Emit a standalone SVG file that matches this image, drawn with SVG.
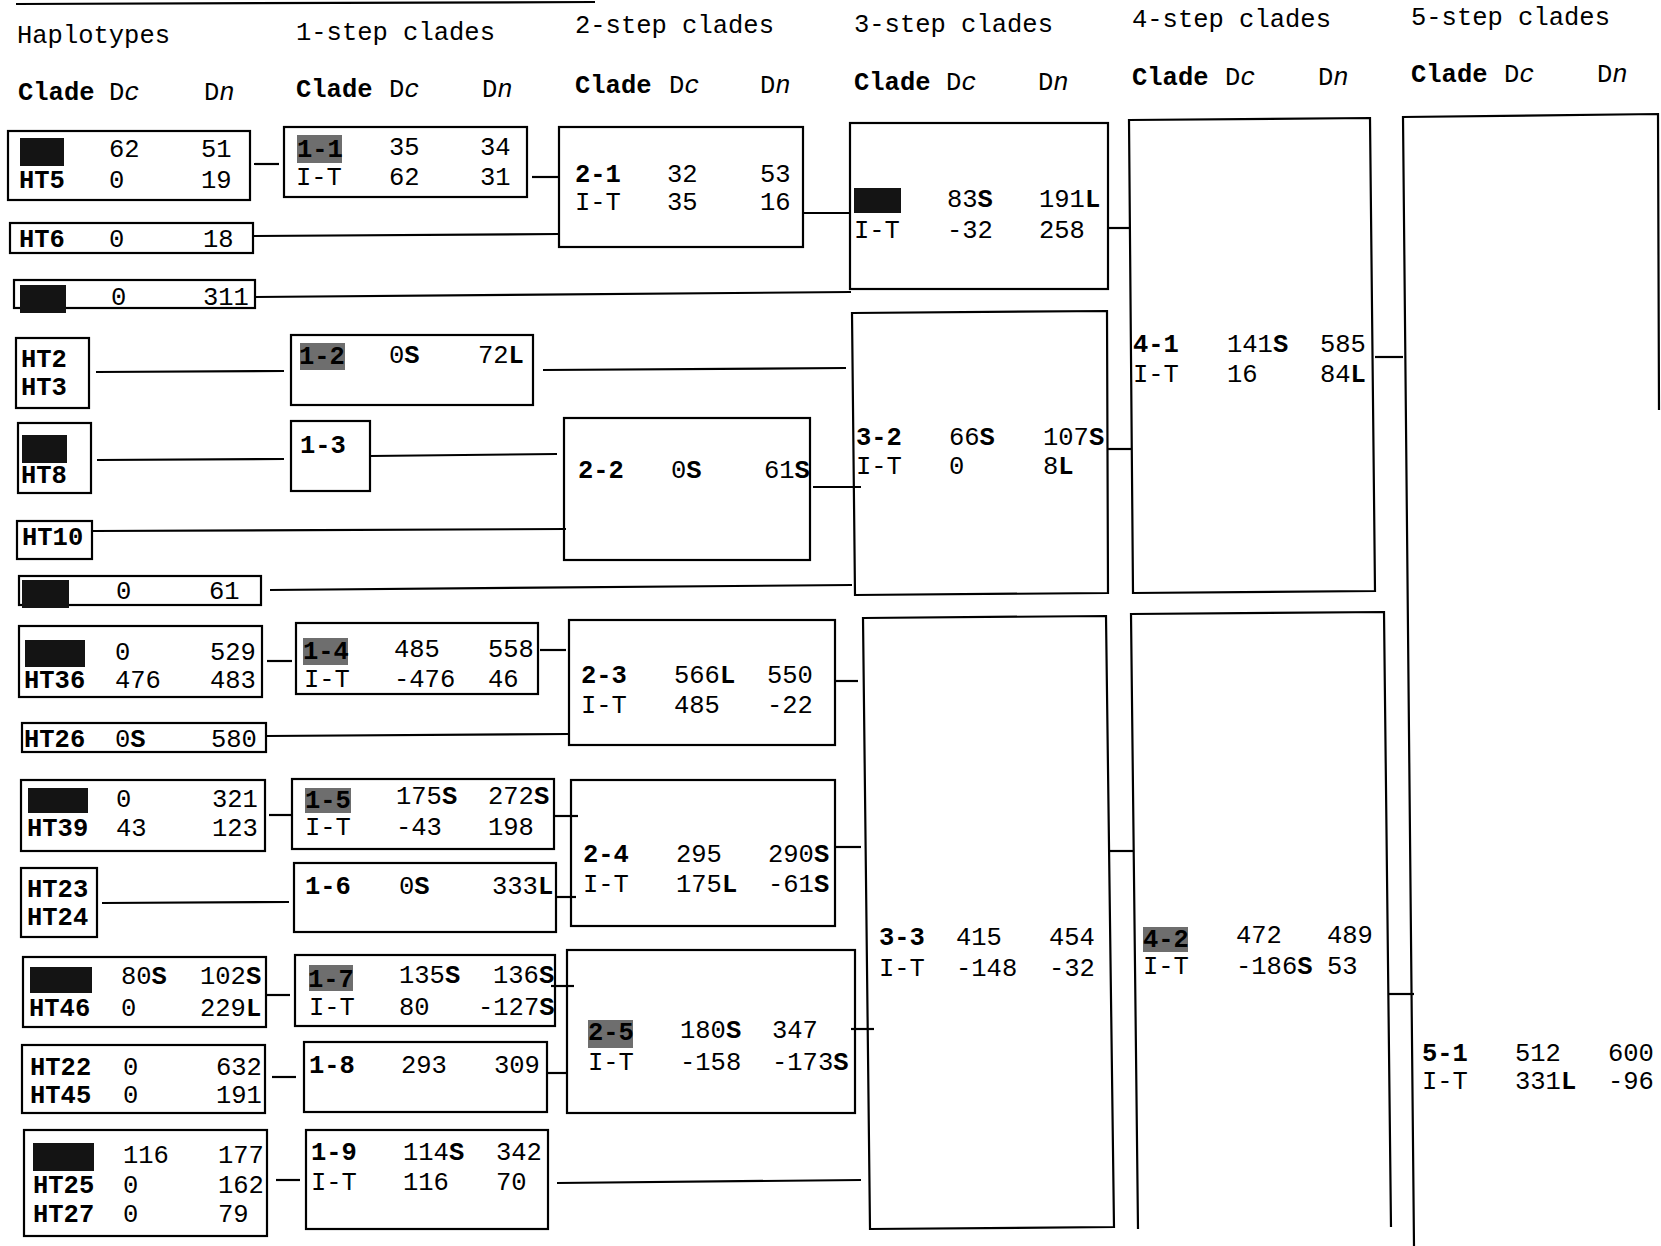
<svg xmlns="http://www.w3.org/2000/svg" width="1661" height="1246" viewBox="0 0 1661 1246">
<style>
text{font-family:"Liberation Mono","Courier New",monospace;font-size:25.5px;fill:#000}
.b{font-weight:bold}
.i{font-style:italic}
.box{fill:none;stroke:#000;stroke-width:2.2}
.blob{fill:#141414}
.smudge{fill:#6e6e6e}
.ln{stroke:#000;stroke-width:2.2;fill:none}
</style>
<rect width="1661" height="1246" fill="#fff"/>
<line class="ln" x1="16" y1="4" x2="595" y2="2"/>
<g id="headers">
<text x="17" y="43">Haplotypes</text>
<text x="296" y="40">1-step clades</text>
<text x="575" y="33">2-step clades</text>
<text x="854" y="32">3-step clades</text>
<text x="1132" y="27">4-step clades</text>
<text x="1411" y="25">5-step clades</text>
<text x="18" y="100"><tspan class="b">Clade</tspan></text><text x="109" y="100">D<tspan class="i">c</tspan></text><text x="204" y="100">D<tspan class="i">n</tspan></text>
<text x="296" y="97"><tspan class="b">Clade</tspan></text><text x="389" y="97">D<tspan class="i">c</tspan></text><text x="482" y="97">D<tspan class="i">n</tspan></text>
<text x="575" y="93"><tspan class="b">Clade</tspan></text><text x="669" y="93">D<tspan class="i">c</tspan></text><text x="760" y="93">D<tspan class="i">n</tspan></text>
<text x="854" y="90"><tspan class="b">Clade</tspan></text><text x="946" y="90">D<tspan class="i">c</tspan></text><text x="1038" y="90">D<tspan class="i">n</tspan></text>
<text x="1132" y="85"><tspan class="b">Clade</tspan></text><text x="1225" y="85">D<tspan class="i">c</tspan></text><text x="1318" y="85">D<tspan class="i">n</tspan></text>
<text x="1411" y="82"><tspan class="b">Clade</tspan></text><text x="1504" y="82">D<tspan class="i">c</tspan></text><text x="1597" y="82">D<tspan class="i">n</tspan></text>
</g>
<g id="connectors">
<line class="ln" x1="254" y1="164" x2="279" y2="164"/>
<line class="ln" x1="532" y1="177" x2="559" y2="177"/>
<line class="ln" x1="253" y1="236" x2="559" y2="234"/>
<line class="ln" x1="255" y1="297" x2="851" y2="292"/>
<line class="ln" x1="803" y1="213" x2="850" y2="213"/>
<line class="ln" x1="1108" y1="228" x2="1129" y2="228"/>
<line class="ln" x1="96" y1="372" x2="284" y2="371"/>
<line class="ln" x1="543" y1="370" x2="846" y2="368"/>
<line class="ln" x1="97" y1="460" x2="284" y2="459"/>
<line class="ln" x1="370" y1="456" x2="557" y2="454"/>
<line class="ln" x1="92" y1="531" x2="566" y2="529"/>
<line class="ln" x1="270" y1="590" x2="852" y2="585"/>
<line class="ln" x1="813" y1="487" x2="861" y2="487"/>
<line class="ln" x1="1108" y1="449" x2="1132" y2="449"/>
<line class="ln" x1="1375" y1="357" x2="1403" y2="357"/>
<line class="ln" x1="267" y1="661" x2="292" y2="661"/>
<line class="ln" x1="540" y1="650" x2="566" y2="650"/>
<line class="ln" x1="266" y1="736" x2="569" y2="734"/>
<line class="ln" x1="835" y1="681" x2="858" y2="681"/>
<line class="ln" x1="269" y1="815" x2="292" y2="815"/>
<line class="ln" x1="553" y1="816" x2="578" y2="816"/>
<line class="ln" x1="102" y1="903" x2="289" y2="902"/>
<line class="ln" x1="556" y1="897" x2="576" y2="897"/>
<line class="ln" x1="835" y1="847" x2="861" y2="847"/>
<line class="ln" x1="266" y1="995" x2="290" y2="995"/>
<line class="ln" x1="551" y1="986" x2="574" y2="986"/>
<line class="ln" x1="272" y1="1077" x2="296" y2="1077"/>
<line class="ln" x1="547" y1="1073" x2="568" y2="1073"/>
<line class="ln" x1="276" y1="1180" x2="300" y2="1180"/>
<line class="ln" x1="557" y1="1183" x2="861" y2="1180"/>
<line class="ln" x1="851" y1="1029" x2="874" y2="1029"/>
<line class="ln" x1="1110" y1="851" x2="1134" y2="851"/>
<line class="ln" x1="1388" y1="994" x2="1414" y2="994"/>
</g>
<g id="hap-HT5"><rect class="box" x="8" y="131" width="242" height="69"/><rect class="blob" x="20" y="138" width="44" height="28"/>
<text x="109" y="157">62</text><text x="201" y="157">51</text><text x="19" y="188" class="b">HT5</text><text x="109" y="188">0</text><text x="201" y="188">19</text></g>
<g id="hap-HT6"><rect class="box" x="10" y="223" width="243" height="30"/><text x="19" y="247" class="b">HT6</text><text x="109" y="247">0</text><text x="203" y="247">18</text></g>
<g id="hap-r3"><rect class="box" x="14" y="280" width="241" height="28"/><rect class="blob" x="20" y="285" width="46" height="28"/><text x="111" y="305">0</text><text x="203" y="305">311</text></g>
<g id="hap-HT2"><rect class="box" x="16" y="338" width="73" height="70"/><text x="21" y="367" class="b">HT2</text><text x="21" y="395" class="b">HT3</text></g>
<g id="hap-HT8"><rect class="box" x="18" y="423" width="73" height="70"/><rect class="blob" x="22" y="435" width="45" height="28"/><text x="21" y="483" class="b">HT8</text></g>
<g id="hap-HT10"><rect class="box" x="17" y="521" width="75" height="38"/><text x="22" y="545" class="b">HT10</text></g>
<g id="hap-r7"><rect class="box" x="19" y="576" width="242" height="29"/><rect class="blob" x="22" y="580" width="47" height="28"/><text x="116" y="599">0</text><text x="209" y="599">61</text></g>
<g id="hap-HT36"><rect class="box" x="19" y="626" width="243" height="71"/><rect class="blob" x="25" y="640" width="60" height="27"/>
<text x="115" y="660">0</text><text x="210" y="660">529</text><text x="24" y="688" class="b">HT36</text><text x="115" y="688">476</text><text x="210" y="688">483</text></g>
<g id="hap-HT26"><rect class="box" x="22" y="723" width="244" height="29"/><text x="24" y="747" class="b">HT26</text><text x="115" y="747">0<tspan class="b">S</tspan></text><text x="211" y="747">580</text></g>
<g id="hap-HT39"><rect class="box" x="21" y="780" width="244" height="71"/><rect class="blob" x="28" y="788" width="60" height="25"/>
<text x="116" y="807">0</text><text x="212" y="807">321</text><text x="27" y="836" class="b">HT39</text><text x="116" y="836">43</text><text x="212" y="836">123</text></g>
<g id="hap-HT23"><rect class="box" x="21" y="868" width="76" height="69"/><text x="27" y="897" class="b">HT23</text><text x="27" y="925" class="b">HT24</text></g>
<g id="hap-HT46"><rect class="box" x="23" y="957" width="243" height="70"/><rect class="blob" x="30" y="967" width="62" height="26"/>
<text x="121" y="984">80<tspan class="b">S</tspan></text><text x="200" y="984">102<tspan class="b">S</tspan></text><text x="29" y="1016" class="b">HT46</text><text x="121" y="1016">0</text><text x="200" y="1016">229<tspan class="b">L</tspan></text></g>
<g id="hap-HT22"><rect class="box" x="22" y="1045" width="243" height="68"/>
<text x="30" y="1075" class="b">HT22</text><text x="123" y="1075">0</text><text x="216" y="1075">632</text><text x="30" y="1103" class="b">HT45</text><text x="123" y="1103">0</text><text x="216" y="1103">191</text></g>
<g id="hap-HT25"><rect class="box" x="24" y="1130" width="243" height="106"/><rect class="blob" x="33" y="1143" width="61" height="28"/>
<text x="123" y="1163">116</text><text x="218" y="1163">177</text><text x="33" y="1193" class="b">HT25</text><text x="123" y="1193">0</text><text x="218" y="1193">162</text><text x="33" y="1222" class="b">HT27</text><text x="123" y="1222">0</text><text x="218" y="1222">79</text></g>

<g id="c1-1"><rect class="box" x="284" y="127" width="243" height="70"/><rect class="smudge" x="297" y="135" width="45" height="28"/><text x="297" y="157" class="b">1-1</text>
<text x="389" y="155">35</text><text x="480" y="155">34</text><text x="296" y="185">I-T</text><text x="389" y="185">62</text><text x="480" y="185">31</text></g>
<g id="c1-2"><rect class="box" x="291" y="335" width="242" height="70"/><rect class="smudge" x="300" y="343" width="45" height="27"/><text x="299" y="364" class="b">1-2</text>
<text x="389" y="363">0<tspan class="b">S</tspan></text><text x="478" y="363">72<tspan class="b">L</tspan></text></g>
<g id="c1-3"><rect class="box" x="291" y="421" width="79" height="70"/><text x="300" y="453" class="b">1-3</text></g>
<g id="c1-4"><rect class="box" x="296" y="623" width="242" height="71"/><rect class="smudge" x="303" y="638" width="45" height="27"/><text x="303" y="659" class="b">1-4</text>
<text x="394" y="657">485</text><text x="488" y="657">558</text><text x="304" y="687">I-T</text><text x="394" y="687">-476</text><text x="488" y="687">46</text></g>
<g id="c1-5"><rect class="box" x="292" y="779" width="262" height="70"/><rect class="smudge" x="305" y="788" width="46" height="25"/><text x="305" y="808" class="b">1-5</text>
<text x="396" y="804">175<tspan class="b">S</tspan></text><text x="488" y="804">272<tspan class="b">S</tspan></text><text x="305" y="835">I-T</text><text x="396" y="835">-43</text><text x="488" y="835">198</text></g>
<g id="c1-6"><rect class="box" x="294" y="863" width="262" height="69"/><text x="305" y="894" class="b">1-6</text><text x="399" y="894">0<tspan class="b">S</tspan></text><text x="492" y="894">333<tspan class="b">L</tspan></text></g>
<g id="c1-7"><rect class="box" x="295" y="955" width="260" height="71"/><rect class="smudge" x="309" y="965" width="44" height="26"/><text x="308" y="987" class="b">1-7</text>
<text x="399" y="983">135<tspan class="b">S</tspan></text><text x="493" y="983">136<tspan class="b">S</tspan></text><text x="309" y="1015">I-T</text><text x="399" y="1015">80</text><text x="478" y="1015">-127<tspan class="b">S</tspan></text></g>
<g id="c1-8"><rect class="box" x="304" y="1042" width="243" height="70"/><text x="309" y="1073" class="b">1-8</text><text x="401" y="1073">293</text><text x="494" y="1073">309</text></g>
<g id="c1-9"><rect class="box" x="306" y="1130" width="242" height="99"/><text x="311" y="1160" class="b">1-9</text><text x="403" y="1160">114<tspan class="b">S</tspan></text><text x="496" y="1160">342</text>
<text x="311" y="1190">I-T</text><text x="403" y="1190">116</text><text x="496" y="1190">70</text></g>

<g id="c2-1"><rect class="box" x="559" y="127" width="244" height="120"/><text x="575" y="182" class="b">2-1</text><text x="667" y="182">32</text><text x="760" y="182">53</text>
<text x="575" y="210">I-T</text><text x="667" y="210">35</text><text x="760" y="210">16</text></g>
<g id="c2-2"><rect class="box" x="564" y="418" width="246" height="142"/><text x="578" y="478" class="b">2-2</text><text x="671" y="478">0<tspan class="b">S</tspan></text><text x="764" y="478">61<tspan class="b">S</tspan></text></g>
<g id="c2-3"><rect class="box" x="569" y="620" width="266" height="125"/><text x="581" y="683" class="b">2-3</text><text x="674" y="683">566<tspan class="b">L</tspan></text><text x="767" y="683">550</text>
<text x="581" y="713">I-T</text><text x="674" y="713">485</text><text x="767" y="713">-22</text></g>
<g id="c2-4"><rect class="box" x="571" y="780" width="264" height="146"/><text x="583" y="862" class="b">2-4</text><text x="676" y="862">295</text><text x="768" y="862">290<tspan class="b">S</tspan></text>
<text x="583" y="892">I-T</text><text x="676" y="892">175<tspan class="b">L</tspan></text><text x="768" y="892">-61<tspan class="b">S</tspan></text></g>
<g id="c2-5"><rect class="box" x="567" y="950" width="288" height="163"/><rect class="smudge" x="588" y="1020" width="45" height="28"/><text x="588" y="1040" class="b">2-5</text>
<text x="680" y="1038">180<tspan class="b">S</tspan></text><text x="772" y="1038">347</text><text x="588" y="1070">I-T</text><text x="680" y="1070">-158</text><text x="772" y="1070">-173<tspan class="b">S</tspan></text></g>

<g id="c3-1"><rect class="box" x="850" y="123" width="258" height="166"/><rect class="blob" x="854" y="188" width="47" height="25"/>
<text x="947" y="207">83<tspan class="b">S</tspan></text><text x="1039" y="207">191<tspan class="b">L</tspan></text><text x="854" y="238">I-T</text><text x="947" y="238">-32</text><text x="1039" y="238">258</text></g>
<g id="c3-2"><path class="box" d="M852,313 L1107,311 L1108,593 L855,595 Z"/><text x="856" y="445" class="b">3-2</text><text x="949" y="445">66<tspan class="b">S</tspan></text><text x="1043" y="445">107<tspan class="b">S</tspan></text>
<text x="856" y="474">I-T</text><text x="949" y="474">0</text><text x="1043" y="474">8<tspan class="b">L</tspan></text></g>
<g id="c3-3"><path class="box" d="M863,618 L1106,616 L1114,1227 L870,1229 Z"/><text x="879" y="945" class="b">3-3</text><text x="956" y="945">415</text><text x="1049" y="945">454</text>
<text x="879" y="976">I-T</text><text x="956" y="976">-148</text><text x="1049" y="976">-32</text></g>

<g id="c4-1"><path class="box" d="M1129,120 L1370,118 L1375,591 L1133,593 Z"/><text x="1133" y="352" class="b">4-1</text><text x="1227" y="352">141<tspan class="b">S</tspan></text><text x="1320" y="352">585</text>
<text x="1133" y="382">I-T</text><text x="1227" y="382">16</text><text x="1320" y="382">84<tspan class="b">L</tspan></text></g>
<g id="c4-2"><path class="box" d="M1138,1229 L1131,614 L1384,612 L1391,1227"/><rect class="smudge" x="1143" y="927" width="45" height="25"/><text x="1143" y="947" class="b">4-2</text>
<text x="1236" y="943">472</text><text x="1327" y="943">489</text><text x="1143" y="974">I-T</text><text x="1236" y="974">-186<tspan class="b">S</tspan></text><text x="1327" y="974">53</text></g>

<g id="c5-1"><path class="box" d="M1414,1246 L1403,117 L1658,114 L1659,410"/><text x="1422" y="1061" class="b">5-1</text><text x="1515" y="1061">512</text><text x="1608" y="1061">600</text>
<text x="1422" y="1089">I-T</text><text x="1515" y="1089">331<tspan class="b">L</tspan></text><text x="1608" y="1089">-96</text></g>
</svg>
